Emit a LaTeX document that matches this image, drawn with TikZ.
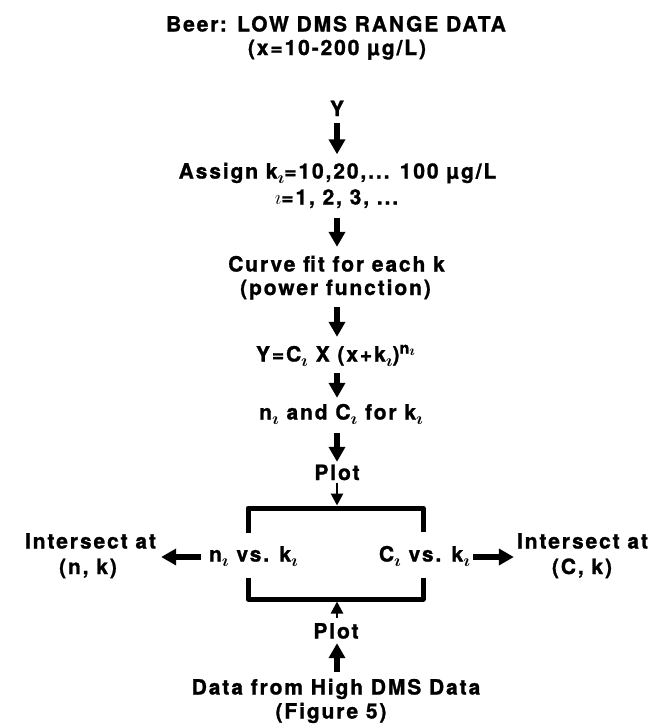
\documentclass[tikz,border=0pt]{standalone}
\usepackage{fontspec}
\usetikzlibrary{arrows.meta}
\newfontfamily\hf{TeX Gyre Heros}[LetterSpace=9, BoldFeatures={FakeBold=1.2}]
\newcommand{\si}{\raisebox{-4.5pt}{\fontsize{19}{19}\selectfont\boldmath$\imath$}}
\newcommand{\sn}{\raisebox{8pt}{\fontsize{16}{16}\selectfont n\raisebox{-2pt}{\fontsize{15}{15}\selectfont\boldmath$\imath$}}}
\begin{document}
\begin{tikzpicture}[x=1pt,y=-1pt,
  txt/.style={anchor=base,inner sep=0pt,text height=13pt,text depth=0pt,
    font=\hf\bfseries\fontsize{21}{24}\selectfont},
  arr/.style={line width=5.2pt,-{Triangle[width=16pt,length=15pt]}},
  thinarr/.style={line width=2.6pt,-{Triangle[width=12pt,length=12pt]}},
  brk/.style={line width=5pt,line join=round}]
\useasboundingbox (0,0) rectangle (655,728);
\node[txt] (t1) at (336,31.5) {Beer: LOW DMS RANGE DATA};
\node[txt] (t2) at (337,55) {(x=10-200 µg/L)};
\node[txt] (y) at (337,116) {Y};
\node[txt] (assign) at (337.5,178.5) {Assign k\si=10,20,... 100 µg/L};
\node[txt] (iline) at (336.5,204.5) {{\fontsize{21}{21}\selectfont$\imath$}=1, 2, 3, ...};
\node[txt] (curve) at (336.5,271.5) {Curve fit for each k};
\node[txt] (power) at (335.5,295) {(power function)};
\node[txt] (yf) at (335.5,361.5) {Y=C\si\ X (x+k\si)\sn};
\node[txt] (nand) at (341,419.5) {n\si\ and C\si\ for k\si};
\node[txt] (plot) at (337,480) {Plot};
\node[txt] (nvk) at (253.5,561.5) {n\si\ vs. k\si};
\node[txt] (cvk) at (424.5,561.5) {C\si\ vs. k\si};
\node[txt] (il) at (90.5,548.5) {Intersect at};
\node[txt] (nk) at (88,574) {(n, k)};
\node[txt] (ir) at (582.5,548.5) {Intersect at};
\node[txt] (ck) at (582,574) {(C, k)};
\node[txt] (plot2) at (336,638.5) {Plot};
\node[txt] (data) at (336,694.5) {Data from High DMS Data};
\node[txt] (fig) at (331,718.5) {(Figure 5)};
\coordinate (btop) at (337,508);
\coordinate (bbot) at (337,599);
% bracket
\draw[brk] (248,533) -- (248,508) -- (423,508) -- (423,532);
\draw[brk] (248,578) -- (248,599) -- (423,599) -- (423,578);
% arrows (kept on the central axis x = 337)
\draw[arr,shorten <=6.5pt,shorten >=11pt] (y.south) -- (assign.north -| y.south);
\draw[arr,shorten <=13.5pt,shorten >=11.5pt] (iline.south -| y.south) -- (curve.north -| y.south);
\draw[arr,shorten <=12pt,shorten >=11.5pt] (power.south -| y.south) -- (yf.north -| y.south);
\draw[arr,shorten <=11.5pt,shorten >=8.5pt] (yf.south -| y.south) -- (nand.north -| y.south);
\draw[arr,shorten <=13.5pt,shorten >=5pt] (nand.south -| plot.north) -- (plot.north);
\draw[thinarr,shorten <=3pt,shorten >=2.5pt] (plot.south) -- (btop);
\draw[thinarr,shorten <=7.5pt,shorten >=2.5pt] (plot2.north -| bbot) -- (bbot);
\draw[arr,shorten <=9.5pt,shorten >=4.5pt] (data.north -| bbot) -- (plot2.south -| bbot);
\draw[arr,shorten <=8pt,shorten >=5pt] ([yshift=-2pt]nvk.west) -- ([yshift=-2pt]nvk.west -| il.east);
\draw[arr,shorten <=3pt,shorten >=3pt] ([yshift=-2pt]cvk.east) -- ([yshift=-2pt]cvk.east -| ir.west);
\end{tikzpicture}
\end{document}
